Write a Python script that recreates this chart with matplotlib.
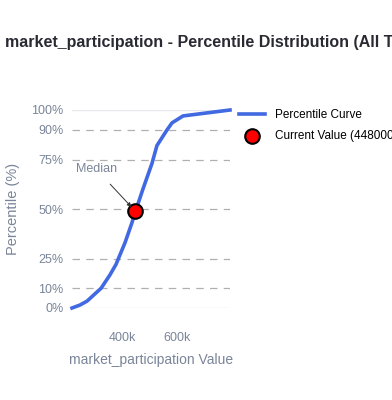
import matplotlib.pyplot as plt
from matplotlib.ticker import FuncFormatter

# percentile curve
values = [218000, 247000, 273000, 324000, 356000, 378000, 411000, 436000,
          447000, 476000, 509000, 527000, 564000, 582000, 622000, 793000]
percentiles = [0, 1.5, 3.5, 10, 16.7, 22, 33, 43, 48, 60, 73, 82, 90, 93.5, 97, 100]
current_value = 448000
current_pct = 49
y_ticks = [0, 10, 25, 50, 75, 90, 100]
x_ticks = [400000, 600000]

plt.rcParams['font.family'] = ['Liberation Sans', 'DejaVu Sans']
gray = '#7a8599'

fig = plt.figure(figsize=(3.92, 4.0), dpi=100)
ax = fig.add_axes([72 / 392, 92 / 400, 158 / 392, 198 / 400])

for t in y_ticks:
    if t in (0, 100):
        ax.axhline(t, color='#e6e9ef', lw=1, zorder=0)
    else:
        ax.axhline(t, color='#b0b0b0', lw=0.9, ls=(0, (6, 5)), zorder=0)

ax.plot(values, percentiles, color='#4169e1', lw=2.6, clip_on=False,
        label='Percentile Curve', zorder=2)
ax.scatter([current_value], [current_pct], s=110, color='red', edgecolor='black',
           linewidth=1.5, zorder=3, clip_on=False,
           label='Current Value (%d)' % current_value)

ax.annotate('Median', xy=(current_value, current_pct), xytext=(-28, 30),
            textcoords='offset points', fontsize=9, color=gray, ha='center', va='center',
            arrowprops=dict(arrowstyle='-|>', color='#333333', lw=0.7,
                            shrinkA=6, shrinkB=4, mutation_scale=6))

ax.set_xlim(values[0], values[-1])
ax.set_ylim(0, 100)
ax.set_yticks(y_ticks)
ax.yaxis.set_major_formatter(FuncFormatter(lambda v, p: '%d%%' % v))
ax.set_xticks(x_ticks)
ax.xaxis.set_major_formatter(FuncFormatter(lambda v, p: '%dk' % (v / 1000)))
ax.tick_params(length=0, labelsize=9, labelcolor=gray)
ax.tick_params(axis='x', pad=17)
ax.tick_params(axis='y', pad=6)
for s in ax.spines.values():
    s.set_visible(False)

ax.set_xlabel('market_participation Value', fontsize=10, color=gray, labelpad=7)
ax.set_ylabel('Percentile (%)', fontsize=10.5, color=gray, labelpad=8)

fig.text(5 / 392, 1 - 43 / 400, 'market_participation - Percentile Distribution (All Time)',
         fontsize=11.5, fontweight='bold', color='#2a2a33', va='center', ha='left')

ax.legend(loc='upper left', bbox_to_anchor=(1.03, 1.03), frameon=False, fontsize=8.5,
          handlelength=2.2, labelspacing=0.75, borderaxespad=0)

fig.savefig('out.png', dpi=100)
